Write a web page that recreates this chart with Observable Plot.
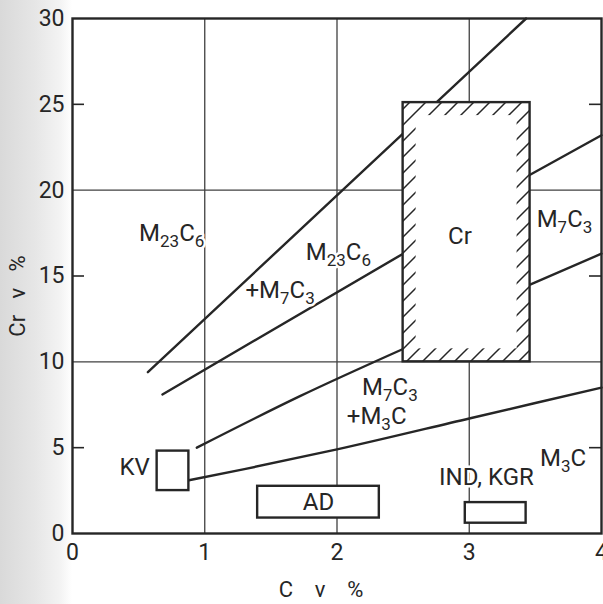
<!DOCTYPE html>
<html><head><meta charset="utf-8">
<script src="https://cdn.jsdelivr.net/npm/d3@7"></script>
<script src="https://cdn.jsdelivr.net/npm/@observablehq/plot@0.6"></script>
<style>
html,body{margin:0;padding:0;}
body{width:603px;height:604px;overflow:hidden;background:linear-gradient(to right,#d9d9d9 0px,#e6e6e6 35px,#f3f3f3 60px,#ffffff 72px);}
</style></head><body><div id="chart"></div>
<script>
// ---- data ----
const xTicks = [0, 1, 2, 3, 4];
const yTicks = [0, 5, 10, 15, 20, 25, 30];
const xGrid = [1, 2, 3];
const yGrid = [10, 20];
const leftInnerTicks = [5, 15, 25];
const rightInnerTicks = [5, 15, 25];

// boundary lines [C %, Cr %]
const lineA = [[0.57, 9.4], [3.43, 30]];
const lineB = [[0.68, 8.1], [2.5, 16.3]];
const lineC = [[0.94, 5.0], [1.72, 8.0], [2.5, 10.75]];
const lineD = [[0.88, 3.1], [1.3, 3.75], [2, 4.9], [3, 6.7], [4, 8.5]];
const lineE = [[3.46, 20.9], [4, 23.2]];
const lineF = [[3.46, 14.5], [4, 16.3]];

// boxes
const crBox = [{x1: 2.5, x2: 3.46, y1: 10, y2: 25.1}];
const steelBoxes = [
  {name: "KV", x1: 0.64, x2: 0.88, y1: 2.5, y2: 4.8},
  {name: "AD", x1: 1.4, x2: 2.32, y1: 0.9, y2: 2.75},
  {name: "IND, KGR", x1: 2.97, x2: 3.43, y1: 0.6, y2: 1.8}
];

// labels
const labelText = ["M₂₃C₆", "M₂₃C₆", "+M₇C₃", "Cr", "M₇C₃", "M₇C₃", "+M₃C", "IND, KGR", "M₃C", "AD", "KV"];
const labelX =    [0.75,    2.01,    1.57,    2.93, 3.72,   2.4,    2.3,    3.13,       3.71,  1.86, 0.47];
const labelY =    [17.5,    16.4,    14.15,   17.3, 18.3,   8.5,    6.85,   3.25,       4.4,   1.8,  3.85];
const labels = labelText.map((t, i) => ({t, x: labelX[i], y: labelY[i]}));

const xLabel = "C    v    %";
const yLabel = "Cr   v   %";

// ---- chart ----
const font = "Roboto, 'DejaVu Sans', sans-serif";
const W = 603, H = 604, mL = 72, mR = 2, mT = 18, mB = 71;
const plotW = W - mL - mR;
const ink = "#262626";
const LABEL_SIZE = 24;
const lineOpts = {x: d => d[0], y: d => d[1], stroke: ink, strokeWidth: 2.4, curve: "monotone-x"};
const rectOpts = {x1: "x1", x2: "x2", y1: "y1", y2: "y2"};

const chart = Plot.plot({
  width: W, height: H,
  marginLeft: mL, marginRight: mR, marginTop: mT, marginBottom: mB,
  x: {domain: [0, 4]},
  y: {domain: [0, 30]},
  style: {background: "transparent", fontFamily: font},
  marks: [
    Plot.ruleX(xGrid, {stroke: "#404040", strokeWidth: 1.3}),
    Plot.ruleY(yGrid, {stroke: "#404040", strokeWidth: 1.3}),
    Plot.tickY(leftInnerTicks, {y: d => d, insetRight: plotW - 12, stroke: ink, strokeWidth: 1.6}),
    Plot.tickY(rightInnerTicks, {y: d => d, insetLeft: plotW - 12, stroke: ink, strokeWidth: 1.6}),
    Plot.line(lineA, lineOpts),
    Plot.line(lineB, lineOpts),
    Plot.line(lineC, lineOpts),
    Plot.line(lineD, lineOpts),
    Plot.line(lineE, lineOpts),
    Plot.line(lineF, lineOpts),
    Plot.rect(crBox, {...rectOpts, fill: "white"}),
    Plot.rect(crBox, {...rectOpts, fill: "url(#hatch)"}),
    Plot.rect(crBox, {...rectOpts, inset: 13, fill: "white"}),
    Plot.rect(crBox, {...rectOpts, fill: "none", stroke: ink, strokeWidth: 2.4}),
    Plot.rect(steelBoxes, {...rectOpts, fill: "white", stroke: ink, strokeWidth: 2.4}),
    Plot.frame({stroke: ink, strokeWidth: 2.4}),
    Plot.axisX({ticks: xTicks, tickFormat: d3.format("d"), tickSize: 0, tickPadding: 10, fontSize: 23, label: null, fill: ink}),
    Plot.axisY({ticks: yTicks, tickFormat: d3.format("d"), tickSize: 0, tickPadding: 8, fontSize: 23, label: null, fill: ink}),
    Plot.text(labels, {x: "x", y: "y", text: "t", fontSize: LABEL_SIZE, fill: ink, stroke: "white", strokeWidth: 5, paintOrder: "stroke"}),
    Plot.text([yLabel], {frameAnchor: "left", text: d => d, rotate: -90, textAnchor: "middle", lineAnchor: "middle", dx: -55, dy: 20, fontSize: 22, fill: ink}),
    Plot.text([xLabel], {frameAnchor: "bottom", text: d => d, textAnchor: "middle", lineAnchor: "middle", dx: -16, dy: 56, fontSize: 22, fill: ink})
  ]
});

const svgEl = chart.tagName.toLowerCase() === "svg" ? chart : chart.querySelector("svg");
const defs = d3.select(svgEl).insert("defs", ":first-child");
const pat = defs.append("pattern").attr("id", "hatch")
  .attr("patternUnits", "userSpaceOnUse").attr("width", 16).attr("height", 16);
pat.append("path").attr("d", "M-4,4L4,-4M0,16L16,0M12,20L20,12")
  .attr("stroke", ink).attr("stroke-width", 1.5).attr("fill", "none");

// render unicode subscripts as real subscripted tspans
const subs = "₀₁₂₃₄₅₆₇₈₉";
const NS = "http://www.w3.org/2000/svg";
const subSize = Math.round(LABEL_SIZE * 0.72), shift = 6;
svgEl.querySelectorAll("text").forEach(t => {
  const s = t.textContent;
  if (![...s].some(c => subs.includes(c))) return;
  while (t.firstChild) t.removeChild(t.firstChild);
  const runs = [];
  for (const c of s) {
    const isSub = subs.includes(c);
    const ch = isSub ? String(subs.indexOf(c)) : c;
    if (runs.length && runs[runs.length - 1].sub === isSub) runs[runs.length - 1].txt += ch;
    else runs.push({sub: isSub, txt: ch});
  }
  let prevSub = false;
  runs.forEach(r => {
    const ts = document.createElementNS(NS, "tspan");
    ts.textContent = r.txt;
    if (r.sub) { ts.setAttribute("font-size", subSize); ts.setAttribute("dy", shift); }
    else if (prevSub) ts.setAttribute("dy", -shift);
    prevSub = r.sub;
    t.appendChild(ts);
  });
});

document.getElementById("chart").appendChild(chart);
</script></body></html>
